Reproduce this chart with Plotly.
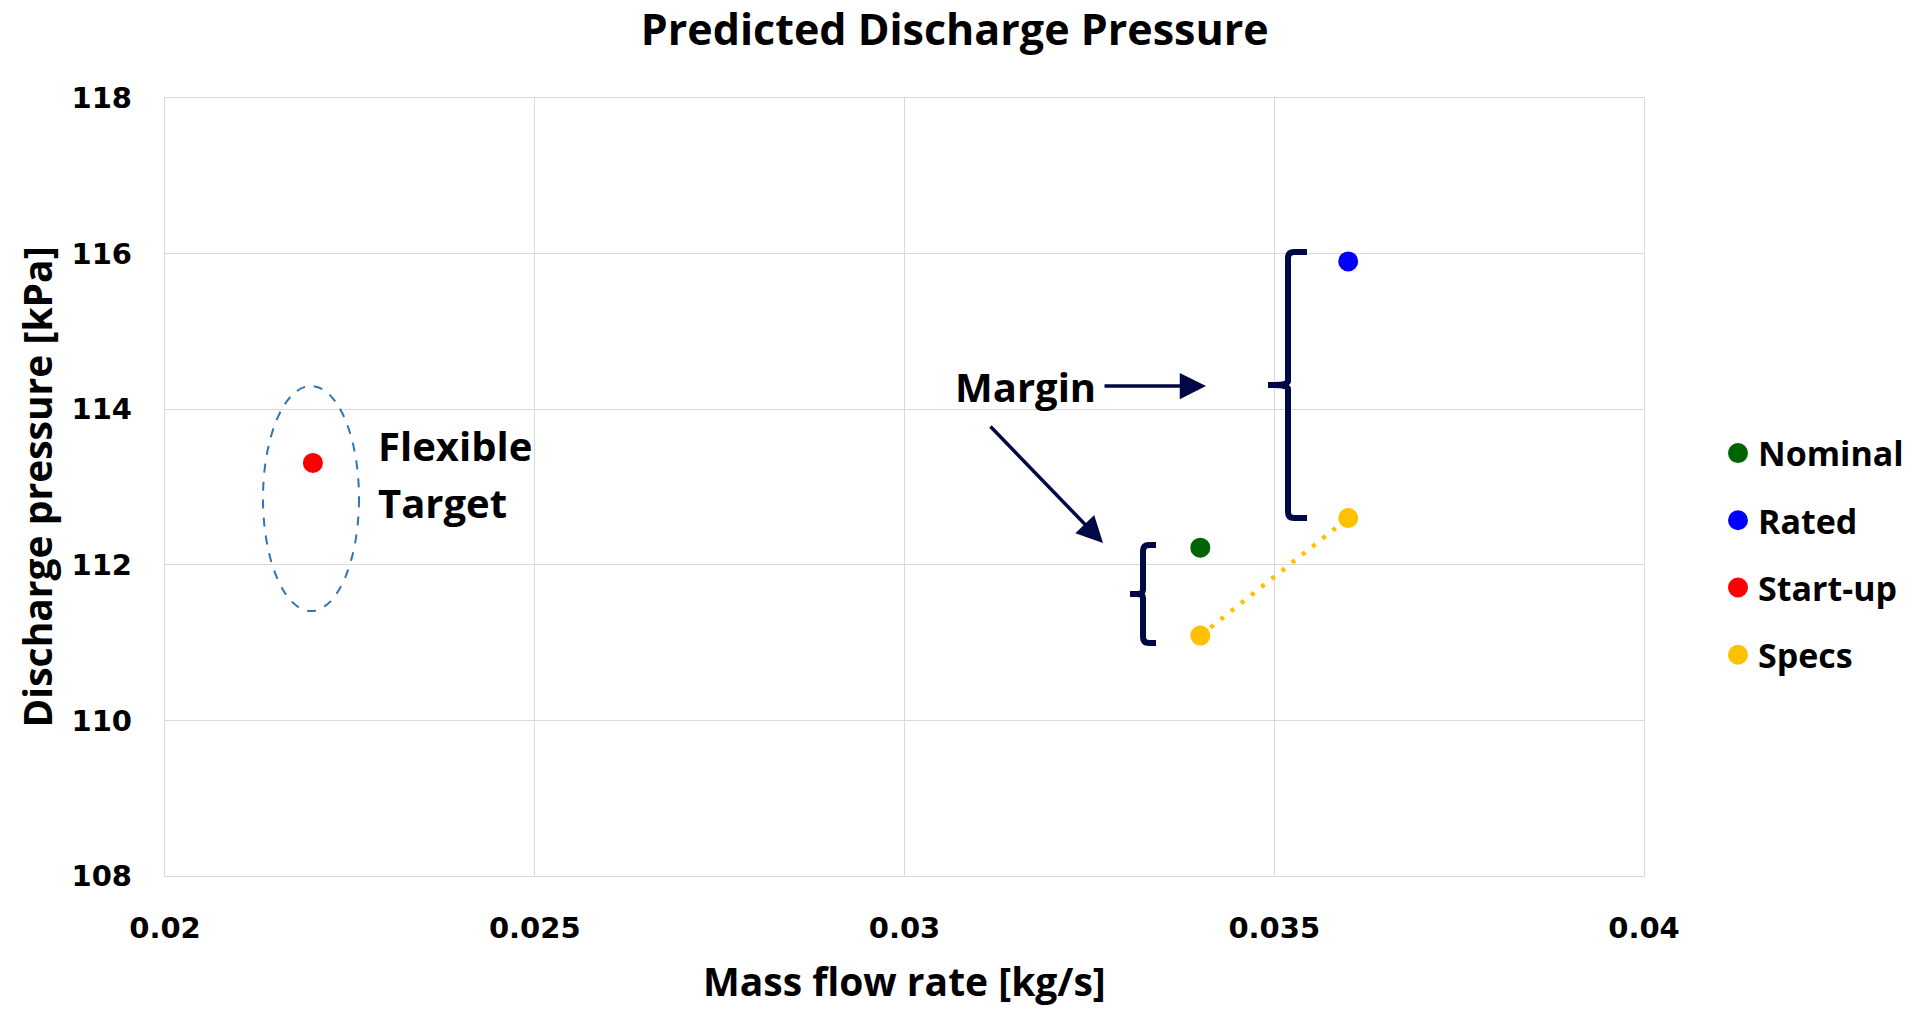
import plotly.graph_objects as go

# ---- data ----
series_names = ["Nominal", "Rated", "Start-up", "Specs"]
nominal_x = [0.034]
nominal_y = [112.22]
rated_x = [0.036]
rated_y = [115.9]
startup_x = [0.022]
startup_y = [113.31]
specs_x = [0.034, 0.036]
specs_y = [111.09, 112.6]
colors = ["#006400", "#0000FF", "#FF0000", "#FFC000"]

x_ticks = [0.02, 0.025, 0.03, 0.035, 0.04]
x_tick_text = ["0.02", "0.025", "0.03", "0.035", "0.04"]
y_ticks = [108, 110, 112, 114, 116, 118]

W, H = 1921, 1010
ML, MR, MT, MB = 165, 277, 98, 134
X0, X1, Y0, Y1 = 0.02, 0.04, 108, 118
PW, PH = W - ML - MR, H - MT - MB


def px2x(px):
    return X0 + (px - ML) / PW * (X1 - X0)


def px2y(py):
    return Y0 + (H - MB - py) / PH * (Y1 - Y0)


NAVY = "#000845"
TXT = "Open Sans"

fig = go.Figure()
fig.add_trace(go.Scatter(x=specs_x, y=specs_y, mode="lines", showlegend=False,
                         line=dict(color=colors[3], width=4.5, dash="4px,9px"), hoverinfo="skip"))
for name, xs, ys, c in [(series_names[0], nominal_x, nominal_y, colors[0]),
                        (series_names[1], rated_x, rated_y, colors[1]),
                        (series_names[2], startup_x, startup_y, colors[2]),
                        (series_names[3], specs_x, specs_y, colors[3])]:
    fig.add_trace(go.Scatter(x=xs, y=ys, mode="markers", name=name, legendgroup=name,
                             marker=dict(color=c, size=16, line=dict(color=c, width=4))))


def brace(xv, xend, xnub, ytop, ybot, ynub, r=6):
    p = (f"M {px2x(xend)},{px2y(ytop)} L {px2x(xv + r)},{px2y(ytop)} "
         f"Q {px2x(xv)},{px2y(ytop)} {px2x(xv)},{px2y(ytop + r)} "
         f"L {px2x(xv)},{px2y(ynub - 4)} Q {px2x(xv)},{px2y(ynub)} {px2x(xnub + 6)},{px2y(ynub)} "
         f"L {px2x(xnub)},{px2y(ynub)} M {px2x(xnub + 6)},{px2y(ynub)} "
         f"Q {px2x(xv)},{px2y(ynub)} {px2x(xv)},{px2y(ynub + 4)} "
         f"L {px2x(xv)},{px2y(ybot - r)} Q {px2x(xv)},{px2y(ybot)} {px2x(xv + r)},{px2y(ybot)} "
         f"L {px2x(xend)},{px2y(ybot)}")
    return dict(type="path", path=p, xref="x", yref="y", line=dict(color=NAVY, width=6))


shapes = [
    brace(1288, 1307, 1268, 252, 518, 385),
    brace(1143, 1156, 1130, 545, 643, 594),
    dict(type="circle", xref="x", yref="y", x0=px2x(263), x1=px2x(359), y0=px2y(611), y1=px2y(386),
         line=dict(color="#2E75B6", width=2, dash="dash")),
]

label_font = dict(family=TXT, size=40, color="black", weight="bold")
annotations = [
    dict(x=px2x(376), y=px2y(445), xref="x", yref="y", text="Flexible", showarrow=False,
         xanchor="left", yanchor="middle", font=label_font),
    dict(x=px2x(376), y=px2y(502), xref="x", yref="y", text="Target", showarrow=False,
         xanchor="left", yanchor="middle", font=label_font),
    dict(x=px2x(953), y=px2y(386), xref="x", yref="y", text="Margin", showarrow=False,
         xanchor="left", yanchor="middle", font=label_font),
    dict(x=px2x(1206), y=px2y(386), xref="x", yref="y", text="", showarrow=True,
         ax=-103, ay=0, arrowhead=2, arrowsize=1.5, arrowwidth=3.5, arrowcolor=NAVY),
    dict(x=px2x(1103), y=px2y(543), xref="x", yref="y", text="", showarrow=True,
         ax=-114, ay=-118, arrowhead=2, arrowsize=1.5, arrowwidth=3.5, arrowcolor=NAVY),
    dict(x=0.5, y=(H - MB - 980) / PH, xref="paper", yref="paper", text="Mass flow rate [kg/s]",
         showarrow=False, xanchor="center", yanchor="middle",
         font=dict(family=TXT, size=39, color="black", weight="bold")),
]

fig.update_layout(
    width=W, height=H,
    margin=dict(l=ML, r=MR, t=MT, b=MB, autoexpand=False),
    plot_bgcolor="white", paper_bgcolor="white",
    title=dict(text="Predicted Discharge Pressure", x=0.497, xref="container", xanchor="center",
               y=1 - 30 / H, yref="container", yanchor="middle",
               font=dict(family=TXT, size=43, color="black", weight="bold")),
    xaxis=dict(range=[X0, X1], tickvals=x_ticks, ticktext=x_tick_text, automargin=False,
               showgrid=True, gridcolor="#D9D9D9", gridwidth=1.3,
               showline=True, linecolor="#D9D9D9", linewidth=1.3, mirror=True, zeroline=False,
               ticks="outside", ticklen=26, tickcolor="rgba(0,0,0,0)",
               tickfont=dict(family="DejaVu Sans", size=29, color="black", weight="bold")),
    yaxis=dict(range=[Y0, Y1], tickvals=y_ticks, automargin=False,
               showgrid=True, gridcolor="#D9D9D9", gridwidth=1.3,
               showline=True, linecolor="#D9D9D9", linewidth=1.3, mirror=True, zeroline=False,
               ticks="outside", ticklen=26, tickcolor="rgba(0,0,0,0)",
               tickfont=dict(family="DejaVu Sans", size=29, color="black", weight="bold"),
               title=dict(text="Discharge pressure [kPa]", standoff=6,
                          font=dict(family=TXT, size=39, color="black", weight="bold"))),
    legend=dict(x=(1718 - ML) / PW, xanchor="left", y=(H - MB - 554) / PH, yanchor="middle",
                font=dict(family=TXT, size=34, color="black", weight="bold"),
                tracegroupgap=20, bgcolor="rgba(0,0,0,0)"),
    shapes=shapes, annotations=annotations, showlegend=True,
)

fig.write_html("out.html")
